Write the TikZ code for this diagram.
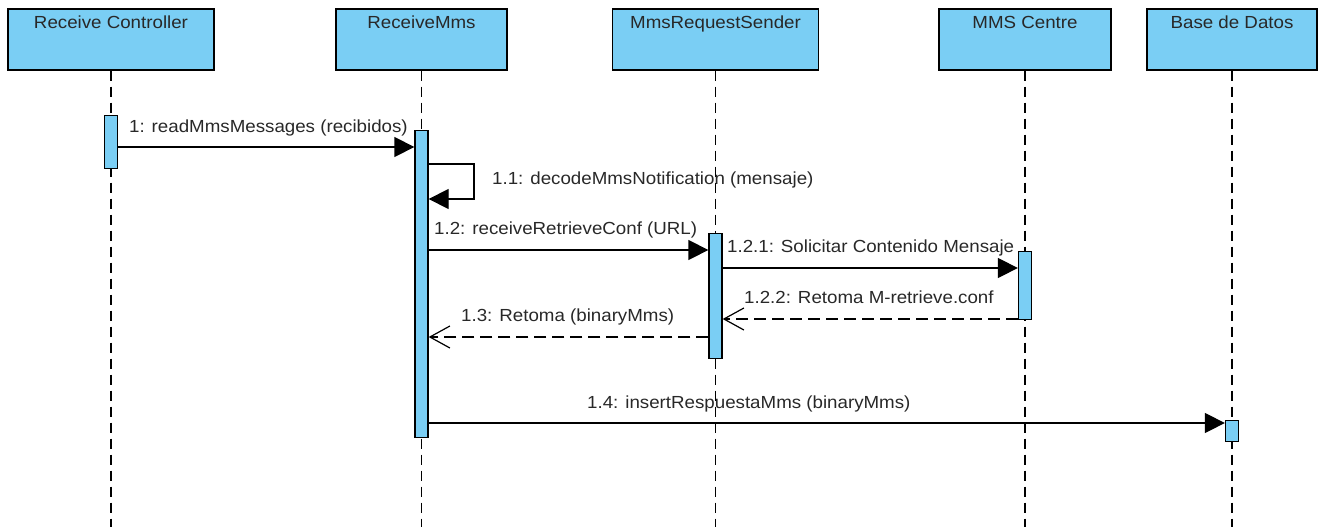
\documentclass[tikz,border=0pt]{standalone}
\usepackage{fontspec}
\setmainfont[FakeStretch=1.07]{Liberation Sans}
\usetikzlibrary{arrows.meta}
\definecolor{umlblue}{RGB}{122,206,244}
\definecolor{txt}{RGB}{40,40,40}
\tikzset{
  head/.style={draw=black, fill=umlblue, line width=1.3pt, inner sep=0pt, rectangle},
  headtext/.style={anchor=base, yshift=-20pt, inner sep=0pt, text=txt, font=\fontsize{17.5}{19}\selectfont},
  lifeline/.style={draw=black, line width=1.1pt, dash pattern=on 10pt off 6pt},
  actbar/.style={draw=black, fill=umlblue, line width=1.3pt, inner sep=0pt, minimum width=13pt, rectangle},
  msg/.style={draw=black, line width=1.3pt, -{Triangle[length=20pt,width=20pt]}},
  reply/.style={draw=black, line width=1.2pt, dash pattern=on 12pt off 6pt, -{Straight Barb[length=20pt,width=22pt,line width=1.2pt]}},
  mlabel/.style={text=txt, font=\fontsize{17.5}{19}\selectfont, inner sep=0pt, anchor=base west},
}
\begin{document}
\begin{tikzpicture}[x=1pt,y=1pt]
\useasboundingbox (0,0) rectangle (1319,-527);
% headers
\node[head, minimum width=206pt, minimum height=61pt, label={[headtext]north:Receive Controller}] (h1) at (111,-39.5) {};
\node[head, minimum width=171pt, minimum height=61pt, label={[headtext]north:ReceiveMms}] (h2) at (421.5,-39.5) {};
\node[head, minimum width=206pt, minimum height=61pt, label={[headtext]north:MmsRequestSender}] (h3) at (715.5,-39.5) {};
\node[head, minimum width=172pt, minimum height=61pt, label={[headtext]north:MMS Centre}] (h4) at (1025,-39.5) {};
\node[head, minimum width=170pt, minimum height=61pt, label={[headtext]north:Base de Datos}] (h5) at (1232,-39.5) {};
% lifeline ends
\coordinate (e1) at (111,-527);
\coordinate (e2) at (421.5,-527);
\coordinate (e3) at (715.5,-527);
\coordinate (e4) at (1025,-527);
\coordinate (e5) at (1232,-527);
\foreach \i in {1,...,5} \draw[lifeline] (h\i.south) -- (e\i);
% activation bars
\node[actbar, minimum height=53pt, anchor=north] (a1) at (111,-115) {};
\node[actbar, minimum height=307pt, anchor=north] (a2) at (421.5,-130) {};
\node[actbar, minimum height=125pt, anchor=north] (a3) at (715.5,-233) {};
\node[actbar, minimum height=68pt, anchor=north] (a4) at (1025,-251) {};
\node[actbar, minimum height=21pt, anchor=north] (a5) at (1232,-420) {};
% message levels
\coordinate (m1) at (0,-147);
\coordinate (m11a) at (0,-164);
\coordinate (m11b) at (0,-199);
\coordinate (m11x) at (474,0);
\coordinate (m12) at (0,-250);
\coordinate (m121) at (0,-268);
\coordinate (m122) at (0,-319);
\coordinate (m13) at (0,-337);
\coordinate (m14) at (0,-423);
% messages
\draw[msg] (a1.east |- m1) -- (a2.west |- m1);
\node[mlabel] (l1) at (129,-132) {1: readMmsMessages (recibidos)};
\draw[msg] (a2.east |- m11a) -- (m11x |- m11a) -- (m11x |- m11b) -- (a2.east |- m11b);
\node[mlabel] (l11) at (492,-184) {1.1: decodeMmsNotification (mensaje)};
\draw[msg] (a2.east |- m12) -- (a3.west |- m12);
\node[mlabel] (l12) at (434,-234) {1.2: receiveRetrieveConf (URL)};
\draw[msg] (a3.east |- m121) -- (a4.west |- m121);
\node[mlabel] (l121) at (727,-252) {1.2.1: Solicitar Contenido Mensaje};
\draw[reply] (a4.west |- m122) -- (a3.east |- m122);
\node[mlabel] (l122) at (744,-303) {1.2.2: Retoma M-retrieve.conf};
\draw[reply] (a3.west |- m13) -- (a2.east |- m13);
\node[mlabel] (l13) at (461,-321) {1.3: Retoma (binaryMms)};
\draw[msg] (a2.east |- m14) -- (a5.west |- m14);
\node[mlabel] (l14) at (587,-408) {1.4: insertRespuestaMms (binaryMms)};
\end{tikzpicture}
\end{document}
